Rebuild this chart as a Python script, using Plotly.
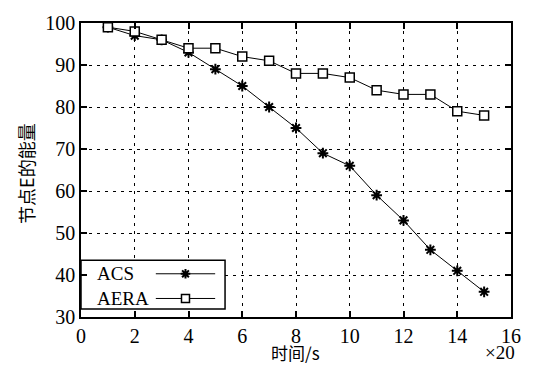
import plotly.graph_objects as go

x_vals = list(range(1, 16))
acs = [99, 97, 96, 93, 89, 85, 80, 75, 69, 66, 59, 53, 46, 41, 36]
aera = [99, 98, 96, 94, 94, 92, 91, 88, 88, 87, 84, 83, 83, 79, 78]
series_names = ["ACS", "AERA"]
x_title = "时间/s"
y_title = "节点E的能量"
x_scale_note = "×20"

serif = "Liberation Serif"
cjk = "Noto Sans CJK SC"

fig = go.Figure()
fig.add_trace(go.Scatter(
    x=x_vals, y=acs, mode="lines+markers", name=series_names[0],
    line=dict(color="black", width=1),
    marker=dict(symbol="asterisk-open", size=9, color="black", line=dict(color="black", width=2)),
    showlegend=False))
fig.add_trace(go.Scatter(
    x=x_vals, y=aera, mode="lines+markers", name=series_names[1],
    line=dict(color="black", width=1),
    marker=dict(symbol="square", size=9, color="white", line=dict(color="black", width=1.5)),
    showlegend=False))

# custom legend (text left, sample on right) drawn on an overlay axis spanning [0,1]
box_x = [0.0, 0.335, 0.335, 0.0, 0.0]
box_y = [0.027, 0.027, 0.193, 0.193, 0.027]
fig.add_trace(go.Scatter(x=box_x, y=box_y, xaxis="x2", yaxis="y2", mode="lines",
                         fill="toself", fillcolor="white", line=dict(color="black", width=1.5),
                         showlegend=False, hoverinfo="skip"))
leg_y = [0.147, 0.063]
for i, nm in enumerate(series_names):
    fig.add_trace(go.Scatter(
        x=[0.174, 0.243, 0.312], y=[leg_y[i]] * 3, xaxis="x2", yaxis="y2",
        mode="lines", line=dict(color="black", width=1), showlegend=False, hoverinfo="skip"))
    if i == 0:
        mk = dict(symbol="asterisk-open", size=8, color="black", line=dict(color="black", width=2))
    else:
        mk = dict(symbol="square", size=8, color="white", line=dict(color="black", width=1.5))
    fig.add_trace(go.Scatter(
        x=[0.243], y=[leg_y[i]], xaxis="x2", yaxis="y2", mode="markers",
        marker=mk, showlegend=False, hoverinfo="skip"))
    fig.add_annotation(x=0.032, y=leg_y[i], xref="paper", yref="paper", text=nm,
                       showarrow=False, xanchor="left", yanchor="middle",
                       font=dict(family=serif, size=19, color="black"))

fig.update_layout(
    width=533, height=365, margin=dict(l=81, r=16, t=17, b=48),
    paper_bgcolor="white", plot_bgcolor="white",
    font=dict(family=serif, size=19, color="black"),
    xaxis=dict(range=[0, 16], dtick=2),
    yaxis=dict(range=[30, 100], dtick=10),
    xaxis2=dict(overlaying="x", range=[0, 1], visible=False, fixedrange=True),
    yaxis2=dict(overlaying="y", range=[0, 1], visible=False, fixedrange=True),
)
for upd in (fig.update_xaxes, fig.update_yaxes):
    upd(showline=True, linecolor="black", linewidth=1.5, mirror="ticks",
        ticks="inside", ticklen=6, tickwidth=1.5, tickcolor="black",
        showgrid=True, gridcolor="black", gridwidth=1.2, griddash="3px,5px",
        zeroline=False, tickfont=dict(family=serif, size=20, color="black"),
        selector=dict(overlaying=None))
fig.update_xaxes(tickfont=dict(family=serif, size=20, color="black"))
fig.update_yaxes(tickfont=dict(family=serif, size=20, color="black"))

fig.add_annotation(x=0.498, y=-0.12, xref="paper", yref="paper", text=x_title, showarrow=False,
                   xanchor="center", yanchor="middle", font=dict(family=cjk, size=17, color="black"))
fig.add_annotation(x=1.014, y=-0.12, xref="paper", yref="paper", text=x_scale_note, showarrow=False,
                   xanchor="right", yanchor="middle", font=dict(family=serif, size=19, color="black"))
fig.add_annotation(x=-0.128, y=0.49, xref="paper", yref="paper", text=y_title, showarrow=False,
                   textangle=-90, xanchor="center", yanchor="middle",
                   font=dict(family=cjk, size=18, color="black"))
fig.write_html("out.html")
